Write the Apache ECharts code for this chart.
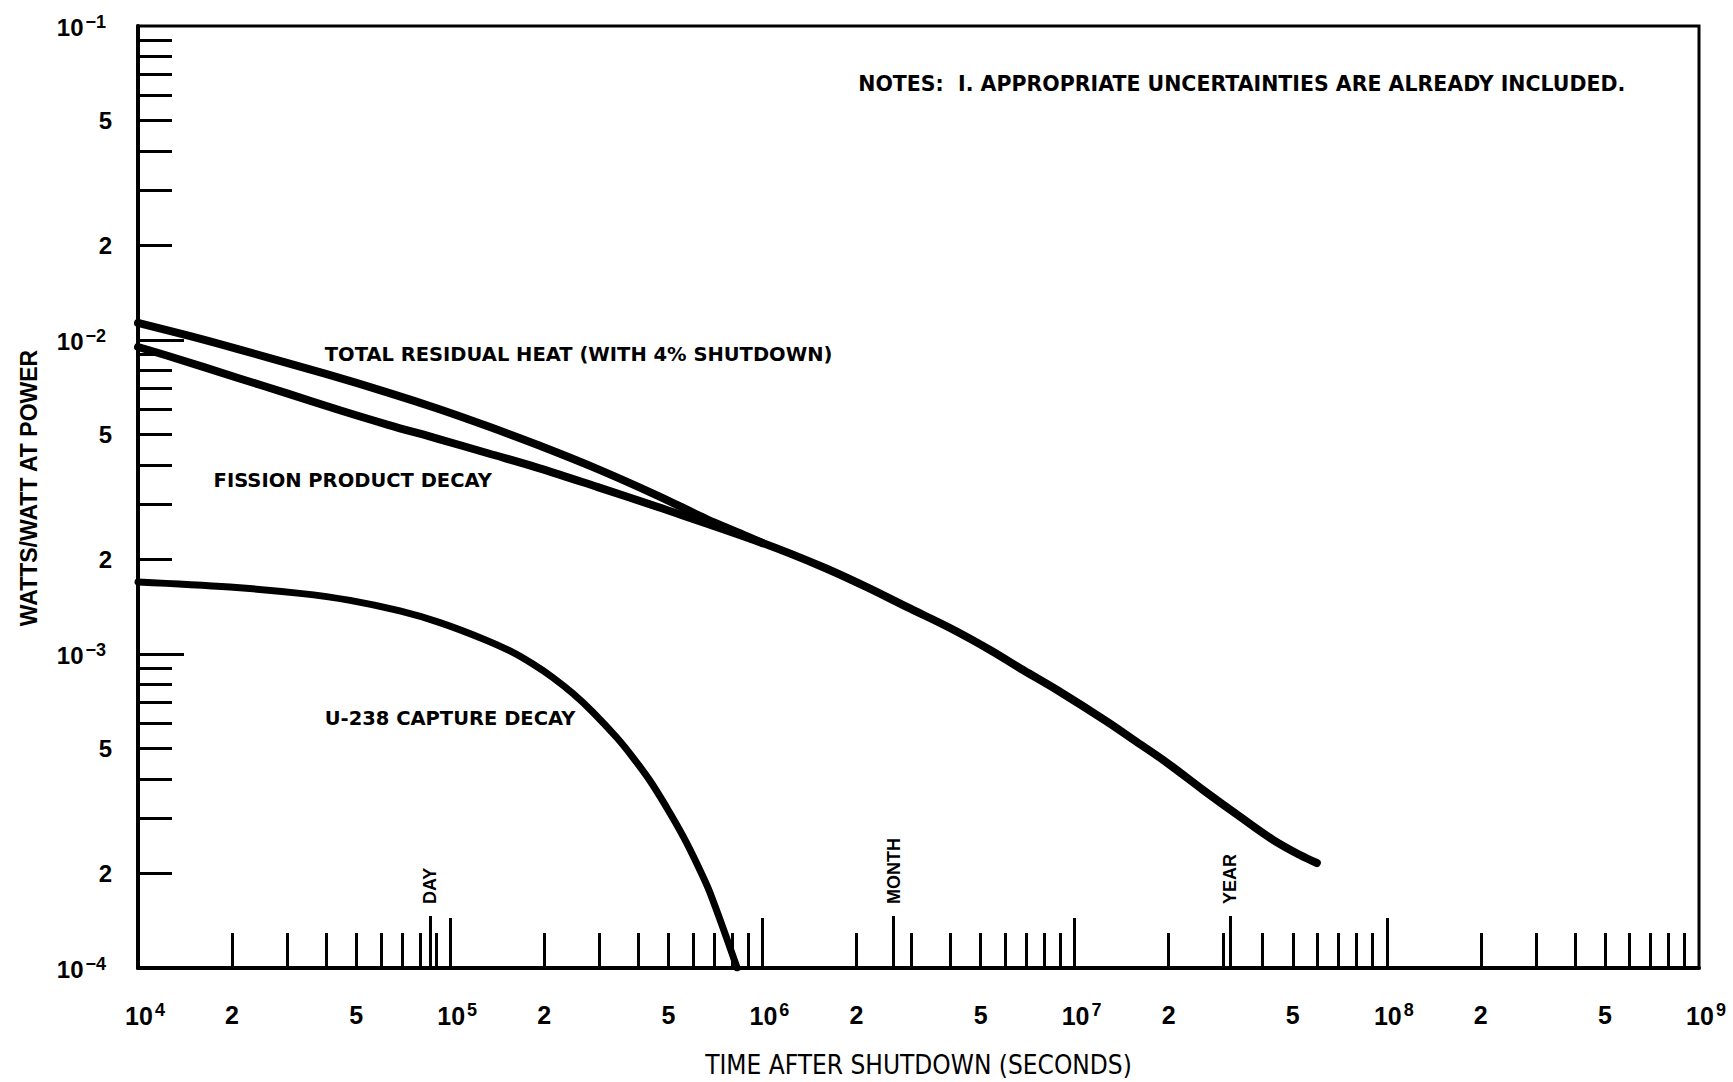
<!DOCTYPE html>
<html>
<head>
<meta charset="utf-8">
<script src="https://cdn.jsdelivr.net/npm/echarts@6/dist/echarts.min.js"></script>
<style>html,body{margin:0;padding:0;background:#fff}#c{width:1733px;height:1082px}</style>
</head>
<body>
<div id="c"></div>
<script>
// ---- data (time after shutdown in seconds, heat in watts/watt at power) ----
const totalHeat = [[1.0e4,0.01133],[1.45e4,0.01032],[2.09e4,0.00935],[3.97e4,0.00781],[6.32e4,0.00680],[9.14e4,0.00604],[1.32e5,0.00531],[1.91e5,0.00463],[2.97e5,0.00388],[4.63e5,0.00319],[6.65e5,0.002685],[8.47e5,0.002427],[1.0e6,0.002257]];
const fissionDecay = [[1.0e4,0.0095],[1.28e4,0.00883],[2.09e4,0.00757],[3.02e4,0.00675],[4.38e4,0.005995],[6.32e4,0.00537],[9.14e4,0.004845],[1.32e5,0.004358],[1.91e5,0.003917],[2.97e5,0.0034],[4.63e5,0.002938],[1.0e6,0.002257],[1.56e6,0.001893],[2.16e6,0.001633],[2.90e6,0.001412],[3.99e6,0.00121],[5.36e6,0.00103],[6.84e6,0.000889],[8.79e6,0.000768],[1.27e7,0.000609],[1.54e7,0.000534],[1.98e7,0.000450],[2.58e7,0.000369],[3.39e7,0.000303],[4.32e7,0.000256],[5.27e7,0.000229],[5.97e7,0.000216]];
const u238Decay = [[1.0e4,0.001696],[1.97e4,0.001634],[3.30e4,0.00156],[4.78e4,0.001482],[6.90e4,0.001371],[9.27e4,0.001259],[1.27e5,0.001119],[1.56e5,0.001021],[1.84e5,0.000929],[2.13e5,0.000842],[2.47e5,0.000749],[2.86e5,0.000654],[3.42e5,0.000541],[3.85e5,0.000468],[4.37e5,0.000394],[4.94e5,0.000324],[5.57e5,0.000263],[6.18e5,0.000214],[6.79e5,0.000174],[8.3e5,0.0001]];

// ---- ticks / labels ----
const xDecades = [1e4,1e5,1e6,1e7,1e8,1e9];
const yDecades = [1e-4,1e-3,1e-2,1e-1];
const minorMultipliers = [2,3,4,5,6,7,8,9];
const labelMultipliers = [1,2,5];
const timeMarkValues = [86400, 2.63e6, 3.156e7];
const timeMarkNames = ['DAY','MONTH','YEAR'];

const annotations = [
  {text:'NOTES:  I. APPROPRIATE UNCERTAINTIES ARE ALREADY INCLUDED.', at:[2.02e6, 0.0653], size:20.5},
  {text:'TOTAL RESIDUAL HEAT (WITH 4% SHUTDOWN)', at:[3.95e4, 8.96e-3], size:19.5},
  {text:'FISSION PRODUCT DECAY', at:[1.74e4, 3.58e-3], size:19.5},
  {text:'U-238 CAPTURE DECAY', at:[3.95e4, 6.25e-4], size:19.5}
];

function multiples(decades, mults, includeLast) {
  const out = [];
  for (let i = 0; i < decades.length - 1; i++) mults.forEach(m => out.push(+(decades[i] * m).toPrecision(6)));
  if (includeLast) out.push(decades[decades.length - 1]);
  return out;
}
const xMinorTicks = multiples(xDecades, minorMultipliers, false);
const yMinorTicks = multiples(yDecades, minorMultipliers, false);
const xLabelValues = multiples(xDecades, labelMultipliers, true);
const yLabelValues = multiples(yDecades, labelMultipliers, true);
const xInnerDecades = xDecades.slice(1, -1);
const yInnerDecades = yDecades.slice(1, -1);

function logLabel(v) {
  const e = Math.floor(Math.log10(v) + 1e-6);
  const m = Math.round(v / Math.pow(10, e));
  return m === 1 ? '{b|10}{s|' + String(e).replace('-', '\u2212') + '}' : '{d|' + m + '}';
}

const FONT = '"Liberation Sans", Arial, sans-serif';
const WIDE = '"DejaVu Sans", "Liberation Sans", sans-serif';
const NARROW = '"Liberation Sans Narrow", "DejaVu Sans Condensed", "Liberation Sans", sans-serif';
const black = '#000';

const gridRect = {left:138, right:34, top:26, bottom:114, outerBoundsMode:'none', containLabel:false};

function makeRich(base, sup, lh, basePad, supPad) {
  return {
    b:{fontSize:base, fontWeight:'bold', fontFamily:FONT, color:black, lineHeight:lh, verticalAlign:'bottom', padding:basePad},
    s:{fontSize:sup, fontWeight:'bold', fontFamily:FONT, color:black, lineHeight:lh, verticalAlign:'top', padding:supPad},
    d:{fontSize:base, fontWeight:'bold', fontFamily:FONT, color:black, lineHeight:lh}
  };
}

const xCommon = {type:'log', logBase:10, min:1e4, max:1e9, splitLine:{show:false}, position:'bottom'};
const yCommon = {type:'log', logBase:10, min:1e-4, max:1e-1, splitLine:{show:false}, position:'left'};

const option = {
  animation:false,
  backgroundColor:'#fff',
  grid:[
    Object.assign({show:true, borderColor:black, borderWidth:3, backgroundColor:'transparent'}, gridRect),
    Object.assign({}, gridRect),
    Object.assign({}, gridRect)
  ],
  xAxis:[
    Object.assign({}, xCommon, {
      gridIndex:0,
      axisLine:{show:true, onZero:false, lineStyle:{color:black, width:4}},
      axisTick:{show:true, inside:true, length:35, customValues:xMinorTicks, lineStyle:{color:black, width:3}},
      axisLabel:{show:true, customValues:xLabelValues, formatter:logLabel, margin:33,
        rich:makeRich(25, 18, 27, [0,0,0,14], [0,0,10,2])},
      name:'TIME AFTER SHUTDOWN (SECONDS)', nameLocation:'middle', nameGap:84,
      nameTextStyle:{fontFamily:NARROW, fontSize:26, color:black}
    }),
    Object.assign({}, xCommon, {
      gridIndex:1,
      axisLine:{show:false},
      axisTick:{show:true, inside:true, length:50, customValues:xInnerDecades, lineStyle:{color:black, width:3}},
      axisLabel:{show:false}
    }),
    Object.assign({}, xCommon, {
      gridIndex:2,
      axisLine:{show:false},
      axisTick:{show:true, inside:true, length:52, customValues:timeMarkValues, lineStyle:{color:black, width:3}},
      axisLabel:{show:true, inside:true, rotate:90, margin:64, customValues:timeMarkValues,
        formatter:function(v){ let best=0; timeMarkValues.forEach((t,i)=>{ if (Math.abs(Math.log10(t/v)) < Math.abs(Math.log10(timeMarkValues[best]/v))) best=i; }); return timeMarkNames[best]; },
        fontFamily:FONT, fontWeight:'bold', fontSize:18, color:black}
    })
  ],
  yAxis:[
    Object.assign({}, yCommon, {
      gridIndex:0,
      axisLine:{show:true, onZero:false, lineStyle:{color:black, width:4}},
      axisTick:{show:true, inside:true, length:34, customValues:yMinorTicks, lineStyle:{color:black, width:3}},
      axisLabel:{show:true, customValues:yLabelValues, formatter:logLabel, margin:26, align:'right',
        rich:makeRich(24, 18, 26, [0,0,0,0], [0,6,10,2])},
      name:'WATTS/WATT AT POWER', nameLocation:'middle', nameGap:98, nameRotate:90,
      nameTextStyle:{fontFamily:FONT, fontWeight:'bold', fontSize:23, color:black, padding:[0,0,0,18]}
    }),
    Object.assign({}, yCommon, {
      gridIndex:1,
      axisLine:{show:false},
      axisTick:{show:true, inside:true, length:46, customValues:yInnerDecades, lineStyle:{color:black, width:3}},
      axisLabel:{show:false}
    }),
    Object.assign({}, yCommon, {gridIndex:2, show:false})
  ],
  series:[
    {type:'line', name:'Total residual heat', xAxisIndex:0, yAxisIndex:0, data:totalHeat, smooth:0.35, showSymbol:false,
     lineStyle:{color:black, width:8, cap:'round', join:'round'}},
    {type:'line', name:'Fission product decay', xAxisIndex:0, yAxisIndex:0, data:fissionDecay, smooth:0.35, showSymbol:false,
     lineStyle:{color:black, width:8, cap:'round', join:'round'}},
    {type:'line', name:'U-238 capture decay', xAxisIndex:0, yAxisIndex:0, data:u238Decay, smooth:0.35, showSymbol:false,
     lineStyle:{color:black, width:7, cap:'round', join:'round'}},
    {type:'scatter', name:'annotations', xAxisIndex:0, yAxisIndex:0, symbolSize:1,
     itemStyle:{color:'rgba(0,0,0,0)', opacity:1},
     data:annotations.map(a => ({value:a.at, name:a.text, label:{fontSize:a.size}})),
     label:{show:true, position:'right', distance:0, formatter:p => p.name, color:black, opacity:1,
       fontFamily:WIDE, fontWeight:'bold', fontSize:19.5, align:'left', verticalAlign:'middle'},
     emphasis:{disabled:true},
     silent:true, z:5}
  ]
};

const chart = echarts.init(document.getElementById('c'), null, {renderer:'svg', width:1733, height:1082});
chart.setOption(option);
</script>
</body>
</html>
